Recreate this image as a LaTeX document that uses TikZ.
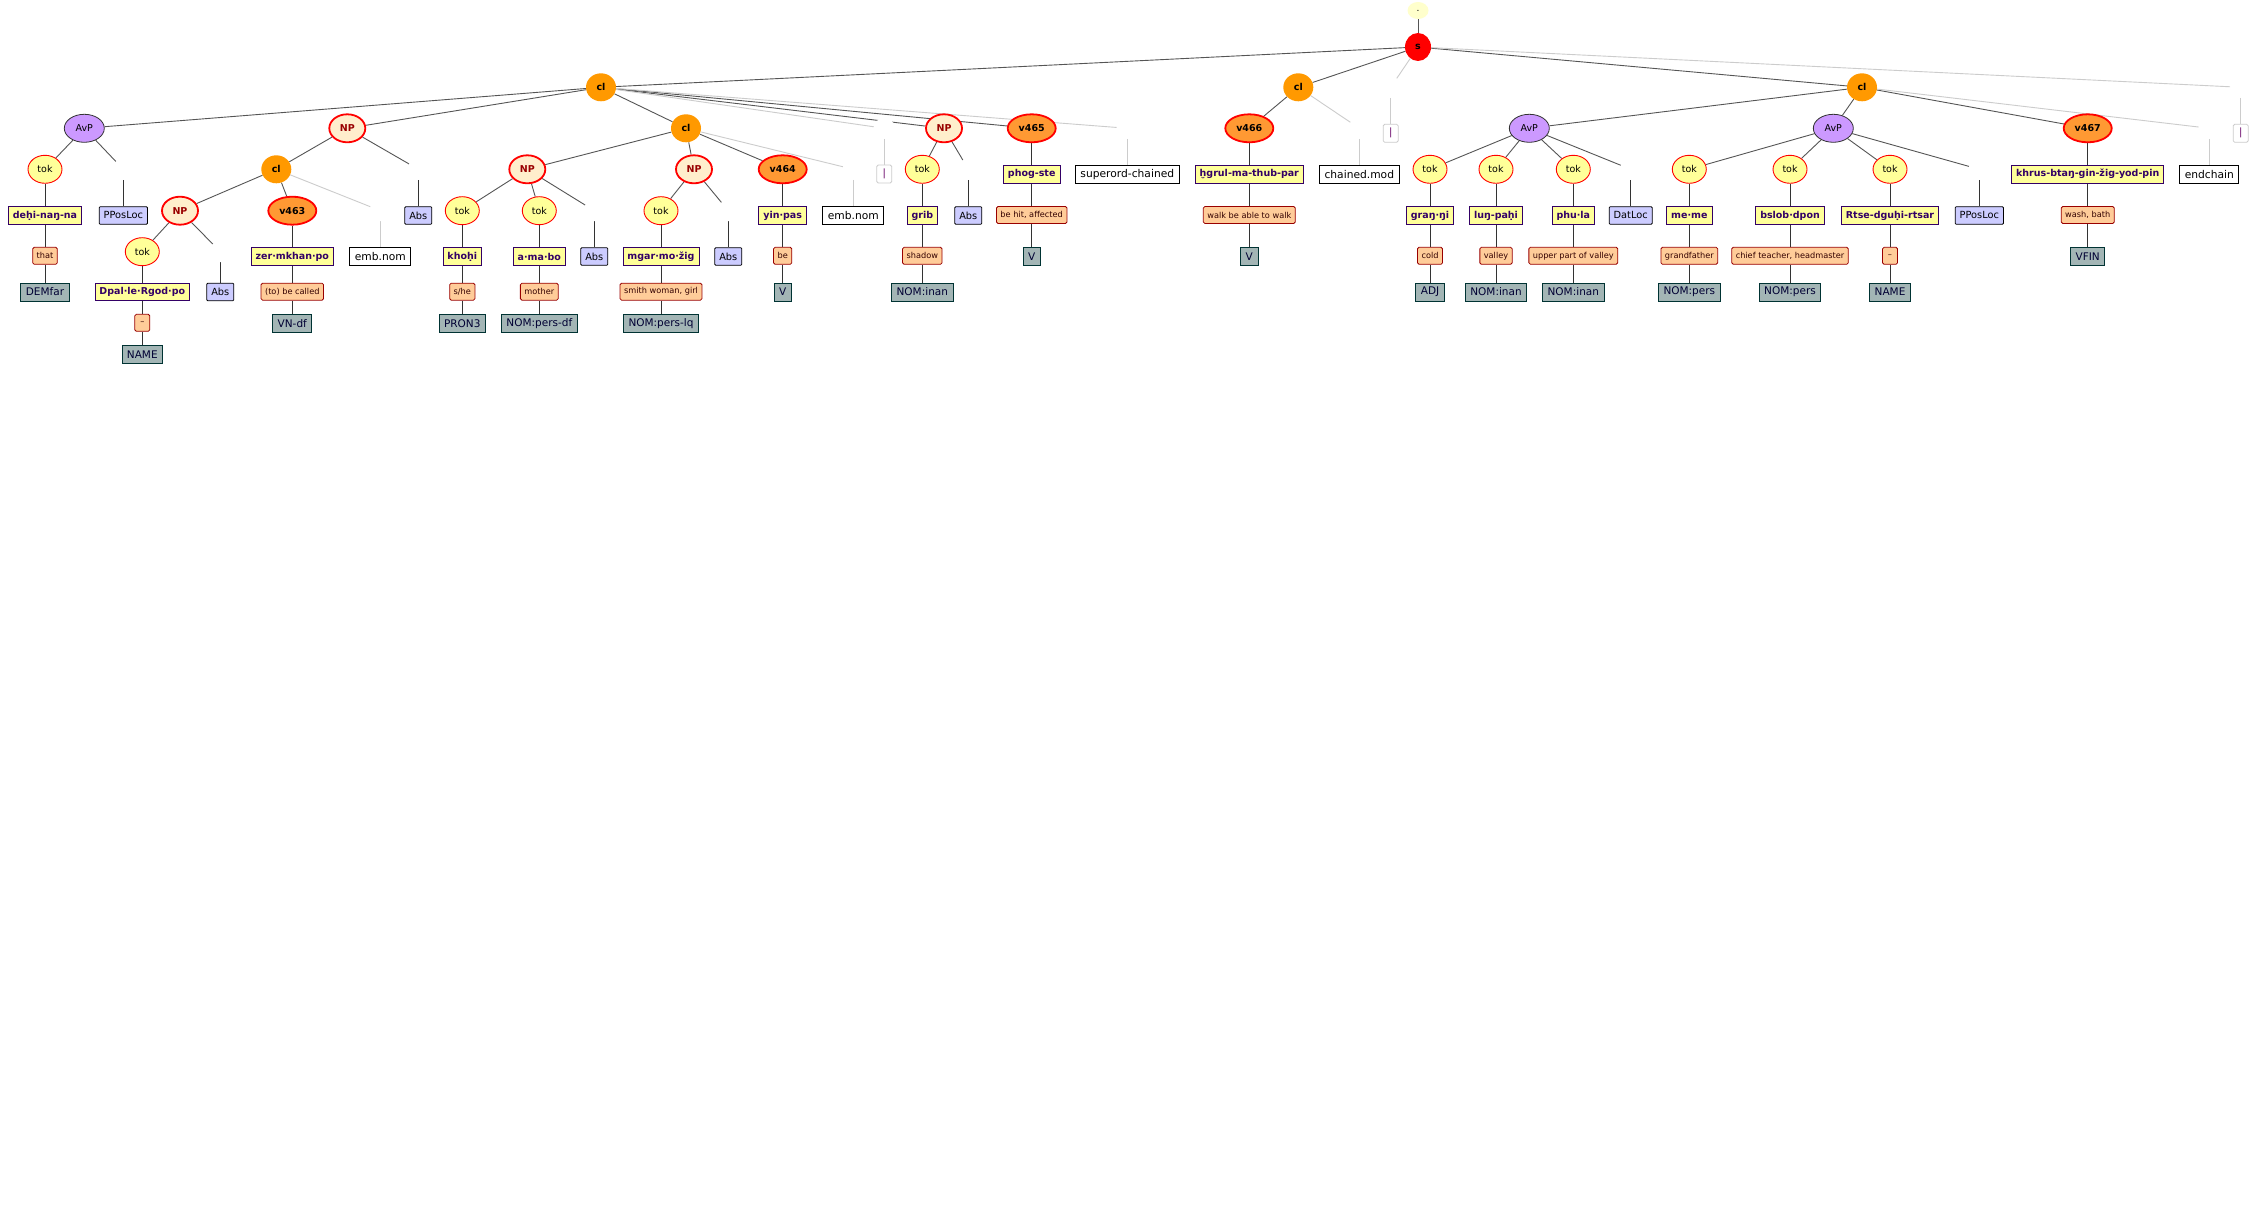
\documentclass[tikz,border=0pt]{standalone}
\usepackage{fontspec}
\setmainfont{DejaVu Sans}
\usetikzlibrary{shapes.geometric, backgrounds}
\definecolor{tkFill}{HTML}{FFFF99}
\definecolor{avFill}{HTML}{CC99FF}
\definecolor{npFill}{HTML}{FFEECC}
\definecolor{npText}{HTML}{990000}
\definecolor{clFill}{HTML}{FF9900}
\definecolor{vbFill}{HTML}{FF9933}
\definecolor{dotFill}{HTML}{FFFFCC}
\definecolor{wdLine}{HTML}{330066}
\definecolor{glFill}{HTML}{FFCC99}
\definecolor{glLine}{HTML}{990000}
\definecolor{glText}{HTML}{330000}
\definecolor{psFill}{HTML}{A3B5B5}
\definecolor{psLine}{HTML}{003333}
\definecolor{psText}{HTML}{000033}
\definecolor{fnFill}{HTML}{CCCCFF}
\definecolor{pipeText}{HTML}{660066}
\definecolor{softGrey}{HTML}{CCCCCC}
\definecolor{darkGrey}{HTML}{555555}
\tikzset{
  toknode/.style   = {ellipse, draw=red, line width=0.9pt, fill=tkFill,
                      minimum width=34pt, minimum height=28pt, inner sep=0pt,
                      font=\fontsize{9.5}{11}\selectfont},
  avpnode/.style   = {ellipse, draw=black!80, line width=0.8pt, fill=avFill,
                      minimum width=40pt, minimum height=28pt, inner sep=0pt,
                      font=\fontsize{9.5}{11}\selectfont},
  npnode/.style    = {ellipse, draw=red, line width=1.8pt, fill=npFill, text=npText,
                      minimum width=36pt, minimum height=28pt, inner sep=0pt,
                      font=\fontsize{9.5}{11}\selectfont\bfseries},
  clnode/.style    = {ellipse, fill=clFill, minimum width=30pt, minimum height=28pt,
                      inner sep=0pt, font=\fontsize{9.5}{11}\selectfont\bfseries},
  snode/.style     = {ellipse, fill=red, minimum width=26pt, minimum height=28pt,
                      inner sep=0pt, font=\fontsize{9.5}{11}\selectfont\bfseries},
  dotnode/.style   = {ellipse, fill=dotFill, minimum width=21pt, minimum height=17pt,
                      inner sep=0pt, font=\fontsize{9}{10}\selectfont},
  vnode/.style     = {ellipse, draw=red, line width=1.8pt, fill=vbFill,
                      minimum width=48pt, minimum height=28pt, inner sep=0pt,
                      font=\fontsize{9.5}{11}\selectfont\bfseries},
  hidnode/.style   = {circle, fill=white, minimum size=21pt, inner sep=0pt},
  wordbox/.style   = {draw=wdLine, fill=tkFill, text=wdLine, line width=0.8pt,
                      minimum height=17.6pt, inner xsep=4.5pt, inner ysep=0pt,
                      font=\fontsize{9.5}{11}\selectfont\bfseries},
  glossbox/.style  = {draw=glLine, fill=glFill, text=glText, line width=0.8pt,
                      rounded corners=1.5pt, minimum height=17pt, minimum width=15pt,
                      inner xsep=4pt, inner ysep=0pt, font=\fontsize{8.2}{9}\selectfont},
  posbox/.style    = {draw=psLine, fill=psFill, text=psText, line width=0.8pt,
                      minimum height=18pt, inner xsep=5pt, inner ysep=0pt,
                      font=\fontsize{10.5}{12}\selectfont},
  funcbox/.style   = {draw=black, fill=fnFill, line width=0.8pt, rounded corners=1pt,
                      minimum height=17.6pt, inner xsep=4.5pt, inner ysep=0pt,
                      font=\fontsize{9.8}{11}\selectfont},
  secbox/.style    = {draw=black, fill=white, line width=0.8pt,
                      minimum height=18pt, inner xsep=5pt, inner ysep=0pt,
                      font=\fontsize{10.7}{12}\selectfont},
  pipebox/.style   = {draw=softGrey, fill=white, text=pipeText, line width=0.8pt,
                      rounded corners=1.5pt, minimum width=15pt, minimum height=18pt,
                      inner sep=0pt, font=\fontsize{10}{11}\selectfont},
  branch/.style    = {darkGrey, line width=0.9pt},
  softbranch/.style= {softGrey, line width=0.9pt},
  stemline/.style  = {black!80, line width=0.9pt},
  softstem/.style  = {softGrey, line width=0.9pt},
}
\begin{document}
\begin{tikzpicture}[x=1pt, y=-1pt]
  \useasboundingbox (0,0) rectangle (2257,1214);

  % root
  \node[dotnode] (top) at (1418,10.5) {.};
  \node[snode]   (s)   at (1418,47)   {s};

  % level 1
  \node[clnode]  (cl1) at (601,87.3)    {cl};
  \node[clnode]  (cl2) at (1298.3,87.3) {cl};
  \node[hidnode] (hs1) at (1390.7,87.3) {};
  \node[clnode]  (cl3) at (1862,87.3)   {cl};
  \node[hidnode] (hs2) at (2240.7,87.3) {};
  \node[pipebox] (ps1) at (1390.7,133.3) {|};
  \node[pipebox] (ps2) at (2240.7,133.3) {|};

  % level 2
  \node[avpnode] (avp1) at (84.3,128.3)   {AvP};
  \node[npnode]  (np1)  at (347.3,128.3)  {NP};
  \node[clnode]  (cl4)  at (686,128.3)    {cl};
  \node[hidnode] (hc1)  at (884.3,128.3)  {};
  \node[npnode]  (np5)  at (944,128.3)    {NP};
  \node[vnode]   (v465) at (1031.7,128.3) {v465};
  \node[hidnode] (hc2)  at (1127.3,128.3) {};
  \node[vnode]   (v466) at (1249.3,128.3) {v466};
  \node[hidnode] (hc3)  at (1359.3,128.3) {};
  \node[avpnode] (avp2) at (1529.3,128.3) {AvP};
  \node[avpnode] (avp3) at (1833.3,128.3) {AvP};
  \node[vnode]   (v467) at (2087.7,128.3) {v467};
  \node[hidnode] (hc4)  at (2209.3,128.3) {};

  \node[pipebox]  (pc1)  at (884.3,174)    {|};
  \node[wordbox]  (w465) at (1031.7,174.2) {phog-ste};
  \node[secbox]   (sup)  at (1127.3,174.2) {superord-chained};
  \node[wordbox]  (w466) at (1249.3,174.2) {ḫgrul-ma-thub-par};
  \node[secbox]   (chm)  at (1359.3,174.2) {chained.mod};
  \node[wordbox]  (w467) at (2087.7,174.2) {khrus-btaŋ-gin-žig-yod-pin};
  \node[secbox]   (endc) at (2209.3,174.2) {endchain};
  \node[glossbox] (g465) at (1031.7,215)   {be hit, affected};
  \node[glossbox] (g466) at (1249.3,215)   {walk be able to walk};
  \node[glossbox] (g467) at (2087.7,215)   {wash, bath};
  \node[posbox]   (p465) at (1031.7,256.3) {V};
  \node[posbox]   (p466) at (1249.3,256.3) {V};
  \node[posbox]   (p467) at (2087.7,256.3) {VFIN};

  % level 3
  \node[toknode] (tok1)  at (45,169.3)     {tok};
  \node[hidnode] (ha1)   at (123.3,169.3)  {};
  \node[clnode]  (cl5)   at (276.3,169.3)  {cl};
  \node[hidnode] (ha2)   at (418.3,169.3)  {};
  \node[npnode]  (np2)   at (527.3,169.3)  {NP};
  \node[npnode]  (np3)   at (694,169.3)    {NP};
  \node[vnode]   (v464)  at (782.7,169.3)  {v464};
  \node[hidnode] (he2)   at (853.3,169.3)  {};
  \node[toknode] (tok8)  at (922.3,169.3)  {tok};
  \node[hidnode] (ha5)   at (968.3,169.3)  {};
  \node[toknode] (tok9)  at (1430,169.3)   {tok};
  \node[toknode] (tok10) at (1496,169.3)   {tok};
  \node[toknode] (tok11) at (1573.3,169.3) {tok};
  \node[hidnode] (ha6)   at (1630.7,169.3) {};
  \node[toknode] (tok12) at (1689.3,169.3) {tok};
  \node[toknode] (tok13) at (1790,169.3)   {tok};
  \node[toknode] (tok14) at (1890,169.3)   {tok};
  \node[hidnode] (ha7)   at (1979.3,169.3) {};

  \node[wordbox] (w1)   at (45,215.5)     {deḥi-naŋ-na};
  \node[funcbox] (f1)   at (123.3,215.5)  {PPosLoc};
  \node[funcbox] (f2)   at (418.3,215.5)  {Abs};
  \node[wordbox] (w464) at (782.7,215.5)  {yin·pas};
  \node[secbox]  (e2)   at (853.3,215.5)  {emb.nom};
  \node[wordbox] (w8)   at (922.3,215.5)  {grib};
  \node[funcbox] (f5)   at (968.3,215.5)  {Abs};
  \node[wordbox] (w9)   at (1430,215.5)   {graŋ·ŋi};
  \node[wordbox] (w10)  at (1496,215.5)   {luŋ-paḥi};
  \node[wordbox] (w11)  at (1573.3,215.5) {phu·la};
  \node[funcbox] (f6)   at (1630.7,215.5) {DatLoc};
  \node[wordbox] (w12)  at (1689.3,215.5) {me·me};
  \node[wordbox] (w13)  at (1790,215.5)   {bslob·dpon};
  \node[wordbox] (w14)  at (1890,215.5)   {Rtse-dguḥi-rtsar};
  \node[funcbox] (f7)   at (1979.3,215.5) {PPosLoc};

  \node[glossbox] (g1)   at (45,255.8)     {that};
  \node[glossbox] (g464) at (782.7,255.8)  {be};
  \node[glossbox] (g8)   at (922.3,255.8)  {shadow};
  \node[glossbox] (g9)   at (1430,255.8)   {cold};
  \node[glossbox] (g10)  at (1496,255.8)   {valley};
  \node[glossbox] (g11)  at (1573.3,255.8) {upper part of valley};
  \node[glossbox] (g12)  at (1689.3,255.8) {grandfather};
  \node[glossbox] (g13)  at (1790,255.8)   {chief teacher, headmaster};
  \node[glossbox] (g14)  at (1890,255.8)   {–};

  \node[posbox] (p1)   at (45,292)     {DEMfar};
  \node[posbox] (p464) at (782.7,292)  {V};
  \node[posbox] (p8)   at (922.3,292)  {NOM:inan};
  \node[posbox] (p9)   at (1430,292)   {ADJ};
  \node[posbox] (p10)  at (1496,292)   {NOM:inan};
  \node[posbox] (p11)  at (1573.3,292) {NOM:inan};
  \node[posbox] (p12)  at (1689.3,292) {NOM:pers};
  \node[posbox] (p13)  at (1790,292)   {NOM:pers};
  \node[posbox] (p14)  at (1890,292)   {NAME};

  % level 4
  \node[npnode]  (np4)  at (180,210.7)   {NP};
  \node[vnode]   (v463) at (292.3,210.7) {v463};
  \node[hidnode] (he1)  at (380.3,210.7) {};
  \node[toknode] (tok5) at (462.3,210.7) {tok};
  \node[toknode] (tok6) at (539.3,210.7) {tok};
  \node[hidnode] (ha3)  at (594.3,210.7) {};
  \node[toknode] (tok7) at (661,210.7)   {tok};
  \node[hidnode] (ha4)  at (728.3,210.7) {};

  \node[wordbox] (w463) at (292.3,256.5) {zer·mkhan·po};
  \node[secbox]  (e1)   at (380.3,256.5) {emb.nom};
  \node[wordbox] (w5)   at (462.3,256.5) {khoḥi};
  \node[wordbox] (w6)   at (539.3,256.5) {a·ma·bo};
  \node[funcbox] (f3)   at (594.3,256.5) {Abs};
  \node[wordbox] (w7)   at (661,256.5)   {mgar·mo·žig};
  \node[funcbox] (f4)   at (728.3,256.5) {Abs};

  \node[glossbox] (g463) at (292.3,291.7) {(to) be called};
  \node[glossbox] (g5)   at (462.3,291.7) {s/he};
  \node[glossbox] (g6)   at (539.3,291.7) {mother};
  \node[glossbox] (g7)   at (661,291.7)   {smith woman, girl};

  \node[posbox] (p463) at (292.3,323.3) {VN-df};
  \node[posbox] (p5)   at (462.3,323.3) {PRON3};
  \node[posbox] (p6)   at (539.3,323.3) {NOM:pers-df};
  \node[posbox] (p7)   at (661,323.3)   {NOM:pers-lq};

  % level 5
  \node[toknode]  (tok4) at (142.3,251.7) {tok};
  \node[hidnode]  (ha8)  at (220.3,251.7) {};
  \node[wordbox]  (w4)   at (142.3,292)   {Dpal·le·Rgod·po};
  \node[funcbox]  (f8)   at (220.3,292)   {Abs};
  \node[glossbox] (g4)   at (142.3,322.8) {–};
  \node[posbox]   (p4)   at (142.3,354.2) {NAME};

  \begin{scope}[on background layer]
    \fill[white] (0,0) rectangle (2257,1214);
    \foreach \a/\b in {top/s, s/cl1, s/cl2, s/cl3,
        cl1/avp1, cl1/np1, cl1/cl4, cl1/np5, cl1/v465, cl2/v466,
        cl3/avp2, cl3/avp3, cl3/v467,
        avp1/tok1, avp1/ha1, np1/cl5, np1/ha2, cl5/np4, cl5/v463,
        np4/tok4, np4/ha8, cl4/np2, cl4/np3, cl4/v464,
        np2/tok5, np2/tok6, np2/ha3, np3/tok7, np3/ha4, np5/tok8, np5/ha5,
        avp2/tok9, avp2/tok10, avp2/tok11, avp2/ha6,
        avp3/tok12, avp3/tok13, avp3/tok14, avp3/ha7}
      \draw[branch] (\a) -- (\b);
    \foreach \a/\b in {s/hs1, s/hs2, cl1/hc1, cl1/hc2, cl2/hc3, cl3/hc4,
        cl5/he1, cl4/he2}
      \draw[softbranch] (\a) -- (\b);
    \foreach \a/\b/\c/\d in {tok1/w1/g1/p1, tok4/w4/g4/p4, v463/w463/g463/p463,
        tok5/w5/g5/p5, tok6/w6/g6/p6, tok7/w7/g7/p7, v464/w464/g464/p464,
        tok8/w8/g8/p8, v465/w465/g465/p465, v466/w466/g466/p466,
        tok9/w9/g9/p9, tok10/w10/g10/p10, tok11/w11/g11/p11,
        tok12/w12/g12/p12, tok13/w13/g13/p13, tok14/w14/g14/p14,
        v467/w467/g467/p467}
      \draw[stemline] (\a) -- (\b) -- (\c) -- (\d);
    \foreach \a/\b in {ha1/f1, ha2/f2, ha3/f3, ha4/f4, ha5/f5, ha6/f6, ha7/f7, ha8/f8}
      \draw[stemline] (\a) -- (\b);
    \foreach \a/\b in {hs1/ps1, hs2/ps2, hc1/pc1, hc2/sup, hc3/chm, hc4/endc,
        he1/e1, he2/e2}
      \draw[softstem] (\a) -- (\b);
  \end{scope}
\end{tikzpicture}
\end{document}
